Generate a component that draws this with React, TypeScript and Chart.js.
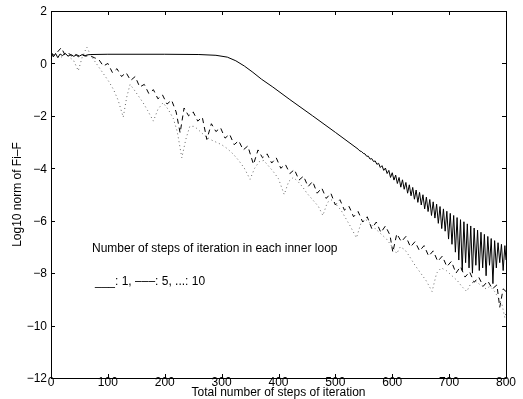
import React, { useEffect, useRef } from "react";
import { Chart, registerables } from "chart.js";

Chart.register(...registerables);

const xTicks = [0, 100, 200, 300, 400, 500, 600, 700, 800];
const yTicks = [-12, -10, -8, -6, -4, -2, 0, 2];

const legendTitle = "Number of steps of iteration in each inner loop";
const legendKey = "___: 1, \u2013\u2013\u2013: 5, ...: 10";
const xTitle = "Total number of steps of iteration";
const yTitle = "Log10 norm of Fi\u2013F";

// 1 step per inner loop (solid)
const solidX = [
  0, 4, 8, 12, 16, 20, 25, 30, 35, 40, 45, 50, 55, 60, 65, 70, 100, 200, 260, 290,
  310, 325, 340, 355, 370, 390, 420, 460, 500, 540, 543, 546, 549, 552, 555, 558, 561, 564, 567, 570,
  573, 576, 579, 582, 585, 588, 591, 594, 597, 600, 603, 606, 609, 612, 615, 618, 621, 624, 627, 630,
  633, 636, 639, 642, 645, 648, 651, 654, 657, 660, 663, 666, 669, 672, 675, 678, 681, 684, 687, 690,
  693, 696, 699, 702, 705, 708, 711, 714, 717, 720, 723, 726, 729, 732, 735, 738, 741, 744, 747, 750,
  753, 756, 759, 762, 765, 768, 771, 774, 777, 780, 783, 786, 789, 792, 795, 798, 800,
];
const solidY = [
  0.45, 0.25, 0.38, 0.22, 0.36, 0.3, 0.38, 0.28, 0.34, 0.27, 0.33, 0.28, 0.34, 0.3, 0.33, 0.34, 0.35, 0.35, 0.34, 0.31,
  0.24, 0.1, -0.1, -0.34, -0.6, -0.9, -1.38, -2.0, -2.63, -3.27, -3.34, -3.36, -3.43, -3.45, -3.54, -3.54, -3.65, -3.63, -3.74, -3.72,
  -3.85, -3.81, -3.97, -3.9, -4.08, -3.99, -4.2, -4.08, -4.35, -4.17, -4.45, -4.26, -4.58, -4.35, -4.72, -4.44, -4.8, -4.54, -4.95, -4.63,
  -5.05, -4.73, -5.18, -4.83, -5.3, -4.92, -5.4, -5.01, -5.55, -5.1, -5.65, -5.19, -5.8, -5.28, -5.9, -5.37, -6.1, -5.46, -6.3, -5.55,
  -6.4, -5.64, -6.7, -5.72, -6.9, -5.8, -7.2, -5.88, -7.5, -5.96, -7.9, -6.04, -7.6, -6.12, -7.8, -6.2, -8.0, -6.28, -7.7, -6.36,
  -7.9, -6.44, -7.8, -6.52, -8.1, -6.6, -7.7, -6.68, -8.4, -6.76, -7.8, -6.84, -7.6, -6.9, -7.9, -6.95, -7.5,
];

// 5 steps per inner loop (dashed)
const dashX = [
  0, 6, 12, 18, 24, 30, 36, 42, 48, 54, 60, 68, 76, 84, 92, 100, 108, 116, 124, 132,
  140, 148, 156, 164, 172, 180, 188, 196, 204, 212, 220, 227, 234, 242, 250, 258, 266, 274, 282, 290,
  298, 306, 314, 322, 330, 338, 346, 356, 364, 372, 380, 388, 396, 404, 412, 420, 428, 436, 444, 452,
  460, 468, 476, 484, 492, 500, 508, 516, 524, 532, 540, 548, 556, 564, 572, 580, 588, 596, 601, 608,
  616, 624, 632, 640, 648, 656, 664, 672, 680, 688, 696, 704, 712, 720, 728, 736, 744, 752, 760, 768,
  776, 784, 789, 795, 800,
];
const dashY = [
  0.4, 0.3, 0.45, 0.6, 0.35, 0.42, 0.28, 0.38, 0.25, 0.33, 0.28, 0.3, 0.22, 0.15, -0.1, 0.0, -0.35, -0.2, -0.5, -0.35,
  -0.65, -0.5, -0.9, -0.8, -1.15, -1.0, -1.35, -1.2, -1.55, -1.4, -1.85, -2.65, -1.7, -2.0, -1.85, -2.2, -2.05, -2.9, -2.3, -2.6,
  -2.45, -2.85, -2.7, -3.1, -2.95, -3.3, -3.15, -3.85, -3.3, -3.6, -3.45, -3.8, -3.6, -4.0, -3.85, -4.2, -4.05, -4.45, -4.3, -4.7,
  -4.5, -4.95, -4.75, -5.15, -4.95, -5.4, -5.2, -5.6, -5.45, -5.85, -5.65, -6.05, -5.85, -6.3, -6.05, -6.45, -6.2, -6.55, -7.2, -6.5,
  -6.8, -6.6, -7.0, -6.8, -7.15, -6.95, -7.35, -7.15, -7.55, -7.35, -7.75, -7.55, -8.0, -7.75, -8.15, -7.95, -8.35, -8.15, -8.5, -8.3,
  -8.6, -8.45, -9.3, -8.6, -8.7,
];

// 10 steps per inner loop (dotted)
const dotX = [
  0, 8, 16, 24, 32, 40, 48, 55, 63, 70, 78, 86, 94, 102, 110, 118, 127, 133, 139, 146,
  154, 162, 170, 180, 188, 197, 206, 215, 222, 230, 237, 244, 252, 260, 270, 280, 290, 300, 310, 320,
  330, 340, 350, 358, 366, 374, 382, 390, 400, 410, 418, 426, 434, 442, 450, 460, 470, 478, 486, 494,
  502, 510, 518, 526, 537, 545, 553, 561, 570, 580, 590, 600, 608, 614, 622, 630, 640, 650, 660, 670,
  678, 686, 695, 705, 715, 722, 731, 738, 746, 755, 765, 772, 780, 788, 793, 798, 800,
];
const dotY = [
  0.3, 0.35, 0.2, 0.35, 0.25, 0.1, -0.28, 0.25, 0.62, 0.3, 0.05, -0.2, -0.45, -0.7, -1.0, -1.4, -2.05, -1.3, -0.8, -1.0,
  -1.25, -1.5, -1.8, -2.2, -1.75, -1.5, -1.75, -2.1, -2.6, -3.6, -2.9, -2.4, -2.4, -2.55, -2.75, -2.9, -3.0, -3.1, -3.25, -3.45,
  -3.7, -4.0, -4.42, -4.0, -3.75, -3.7, -3.9, -4.1, -4.4, -5.0, -4.5, -4.35, -4.5, -4.7, -4.95, -5.2, -5.45, -5.8, -5.3, -5.2,
  -5.4, -5.6, -5.9, -6.2, -6.65, -6.1, -5.95, -6.1, -6.3, -6.5, -6.7, -7.0, -7.25, -7.0, -7.1, -7.35, -7.7, -8.0, -8.3, -8.7,
  -8.0, -7.8, -7.9, -8.1, -8.3, -8.5, -8.7, -8.4, -8.3, -8.45, -8.6, -8.5, -8.7, -9.0, -9.2, -9.7, -9.5,
];

const FONT = "'Liberation Sans', Arial, Helvetica, sans-serif";

function pts(xs: number[], ys: number[]) {
  return xs.map((x, i) => ({ x, y: ys[i] }));
}

const fmt = (v: number) => (v < 0 ? "\u2212" + Math.abs(v) : String(v));

const framePlugin = {
  id: "frame",
  afterDraw(chart: any) {
    const { ctx, chartArea: a, scales } = chart;
    const xs = scales.x;
    const ys = scales.y;
    ctx.save();
    ctx.strokeStyle = "#000";
    ctx.lineWidth = 1;
    ctx.beginPath();
    ctx.rect(Math.round(a.left) + 0.5, Math.round(a.top) + 0.5, Math.round(a.right - a.left), Math.round(a.bottom - a.top));
    ctx.stroke();
    const tl = 4;
    ctx.beginPath();
    for (const t of xTicks) {
      const px = Math.round(xs.getPixelForValue(t)) + 0.5;
      ctx.moveTo(px, a.bottom);
      ctx.lineTo(px, a.bottom - tl);
      ctx.moveTo(px, a.top);
      ctx.lineTo(px, a.top + tl);
    }
    for (const t of yTicks) {
      const py = Math.round(ys.getPixelForValue(t)) + 0.5;
      ctx.moveTo(a.left, py);
      ctx.lineTo(a.left + tl, py);
      ctx.moveTo(a.right, py);
      ctx.lineTo(a.right - tl, py);
    }
    ctx.stroke();

    ctx.fillStyle = "#000";
    ctx.font = `12px ${FONT}`;
    ctx.textBaseline = "middle";

    ctx.textAlign = "right";
    for (const t of yTicks) {
      ctx.fillText(fmt(t), a.left - 4, ys.getPixelForValue(t) + 1);
    }
    ctx.textAlign = "center";
    for (const t of xTicks) {
      ctx.fillText(fmt(t), xs.getPixelForValue(t), a.bottom + 5);
    }

    ctx.textAlign = "left";
    ctx.fillText(legendTitle, 92, 249);
    ctx.fillText(legendKey, 95, 282);

    ctx.textAlign = "center";
    ctx.fillText(xTitle, (a.left + a.right) / 2, 393);
    ctx.save();
    ctx.translate(18, (a.top + a.bottom) / 2);
    ctx.rotate(-Math.PI / 2);
    ctx.fillText(yTitle, 0, 0);
    ctx.restore();
    ctx.restore();
  },
};

export default function App() {
  const ref = useRef<HTMLCanvasElement | null>(null);
  useEffect(() => {
    document.body.style.margin = "0";
    if (!ref.current) return;
    const chart = new Chart(ref.current, {
      type: "line",
      data: {
        datasets: [
          {
            label: "1",
            data: pts(solidX, solidY),
            borderColor: "#000",
            borderWidth: 1,
            pointRadius: 0,
            tension: 0,
          },
          {
            label: "5",
            data: pts(dashX, dashY),
            borderColor: "#000",
            borderWidth: 1,
            borderDash: [5, 4],
            pointRadius: 0,
            tension: 0,
          },
          {
            label: "10",
            data: pts(dotX, dotY),
            borderColor: "#666",
            borderWidth: 1,
            borderDash: [1, 3],
            pointRadius: 0,
            tension: 0,
          },
        ],
      },
      options: {
        animation: false,
        responsive: false,
        devicePixelRatio: 1,
        parsing: false,
        layout: { padding: { left: 51, right: 17, top: 11, bottom: 21 } },
        plugins: { legend: { display: false }, tooltip: { enabled: false } },
        scales: {
          x: { type: "linear", min: 0, max: 800, display: false },
          y: { type: "linear", min: -12, max: 2, display: false },
        },
      },
      plugins: [framePlugin],
    });
    return () => chart.destroy();
  }, []);
  return (
    <div style={{ position: "absolute", left: 0, top: 0, width: 523, height: 399, background: "#fff" }}>
      <canvas ref={ref} width={523} height={399} style={{ width: 523, height: 399 }} />
    </div>
  );
}
